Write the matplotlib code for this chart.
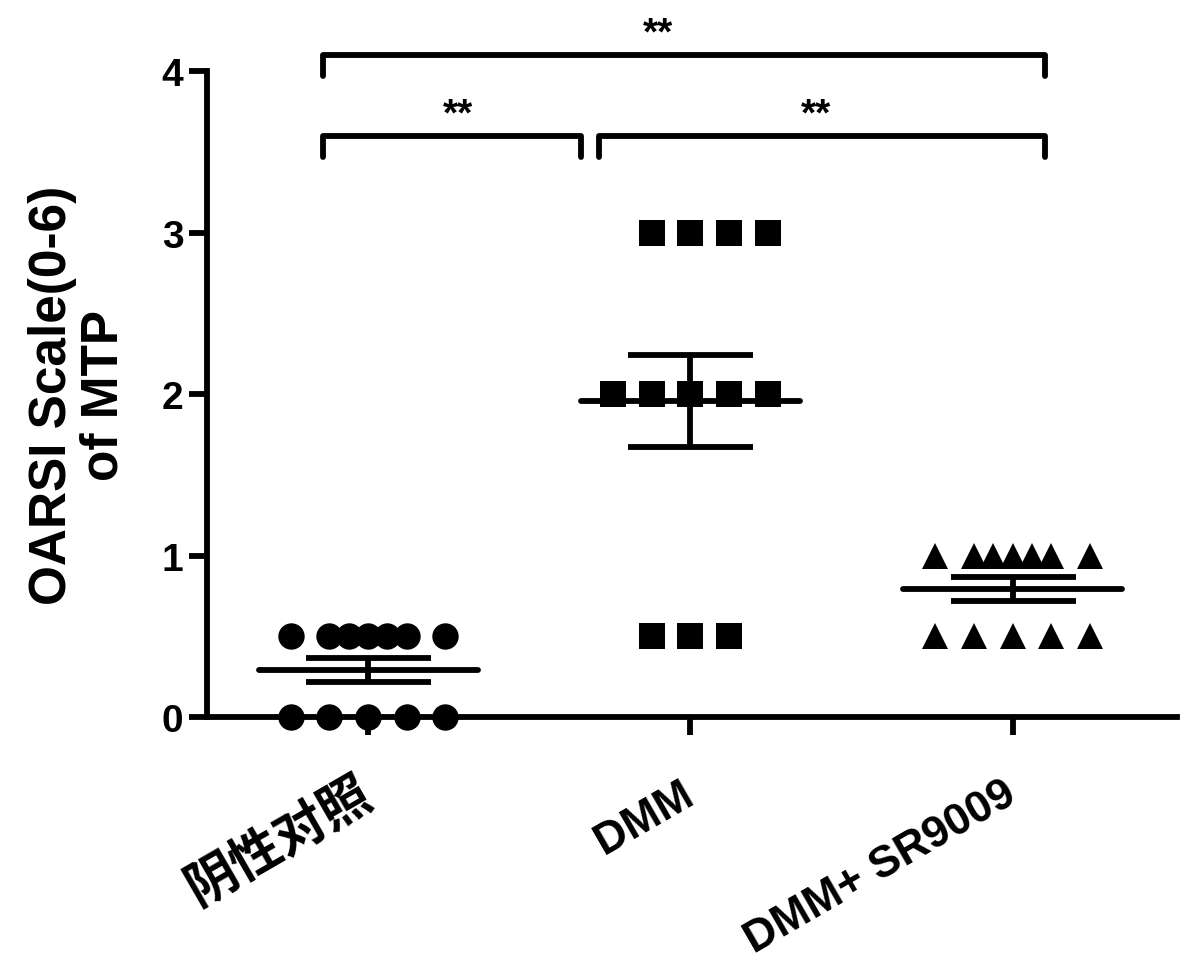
import matplotlib
matplotlib.use("Agg")
import matplotlib.pyplot as plt
import numpy as np

# data (12 animals per group)
groups = ["阴性对照", "DMM", "DMM+ SR9009"]
neg_ctrl = [0, 0, 0, 0, 0, 0.5, 0.5, 0.5, 0.5, 0.5, 0.5, 0.5]
dmm = [0.5, 0.5, 0.5, 2, 2, 2, 2, 2, 3, 3, 3, 3]
dmm_sr = [0.5, 0.5, 0.5, 0.5, 0.5, 1, 1, 1, 1, 1, 1, 1]
markers = ["o", "s", "^"]
yticks = [0, 1, 2, 3, 4]
# significance: (x start, x end, height, label)
sig = [(-0.14, 0.66, 3.60, "**"), (0.715, 2.10, 3.60, "**"), (-0.14, 2.10, 4.10, "**")]
star_x = [0.28, 1.39, 0.90]

plt.rcParams['font.family'] = ['Liberation Sans', 'Noto Sans CJK SC', 'DejaVu Sans']
plt.rcParams['font.weight'] = 'bold'


def swarm(n, step=0.12):
    # prism-like spreading of tied values
    if n <= 5:
        return np.array([0, -1, 1, 2, -2][:n]) * step
    inner = np.linspace(-1, 1, n - 2)
    return np.concatenate([[-2], inner, [2]]) * step


fig = plt.figure(figsize=(12, 9.78), dpi=100)
ax = fig.add_axes([0.1725, 0.2658, 0.8083, 0.6605])

lw = 4.2
for i, vals in enumerate([neg_ctrl, dmm, dmm_sr]):
    vals = np.array(vals, dtype=float)
    for v in np.unique(vals):
        n = int((vals == v).sum())
        xs = i + swarm(n)
        ax.plot(xs, [v] * n, linestyle="none", marker=markers[i], ms=19,
                color="black", mew=0, clip_on=False, zorder=3)
    m = vals.mean()
    sem = vals.std(ddof=1) / np.sqrt(len(vals))
    ax.hlines(m, i - 0.34, i + 0.34, color="black", lw=lw, zorder=4, capstyle="round")
    ax.errorbar(i, m, yerr=sem, fmt="none", ecolor="black", elinewidth=lw,
                capsize=45, capthick=lw, zorder=4)

for (x0, x1, y, lab), sx in zip(sig, star_x):
    ax.plot([x0, x0, x1, x1], [y - 0.13, y, y, y - 0.13], color="black", lw=lw,
            solid_capstyle="round", solid_joinstyle="round", clip_on=False)
    ax.text(sx, y + 0.13, lab, ha="center", va="center", fontsize=28,
            fontweight="bold")

ax.set_xlim(-0.5, 2.51)
ax.set_ylim(0, 4)
ax.set_yticks(yticks)
ax.set_xticks(range(len(groups)))
ax.set_xticklabels(groups, rotation=30, ha="right", va="center",
                   rotation_mode="anchor", fontsize=32, fontweight="bold")
ax.get_xticklabels()[0].set_fontsize(37)
ax.tick_params(axis="y", labelsize=28, length=13, width=lw, pad=4)
ax.tick_params(axis="x", length=13, width=lw, pad=40)
for lab in ax.get_yticklabels():
    lab.set_fontweight("bold")

for s in ["top", "right"]:
    ax.spines[s].set_visible(False)
for s in ["left", "bottom"]:
    ax.spines[s].set_linewidth(lw)

ax.set_ylabel("OARSI Scale(0-6)\nof MTP", fontsize=37, fontweight="bold",
              labelpad=24, linespacing=1.05)

fig.savefig("out.png", dpi=100)
